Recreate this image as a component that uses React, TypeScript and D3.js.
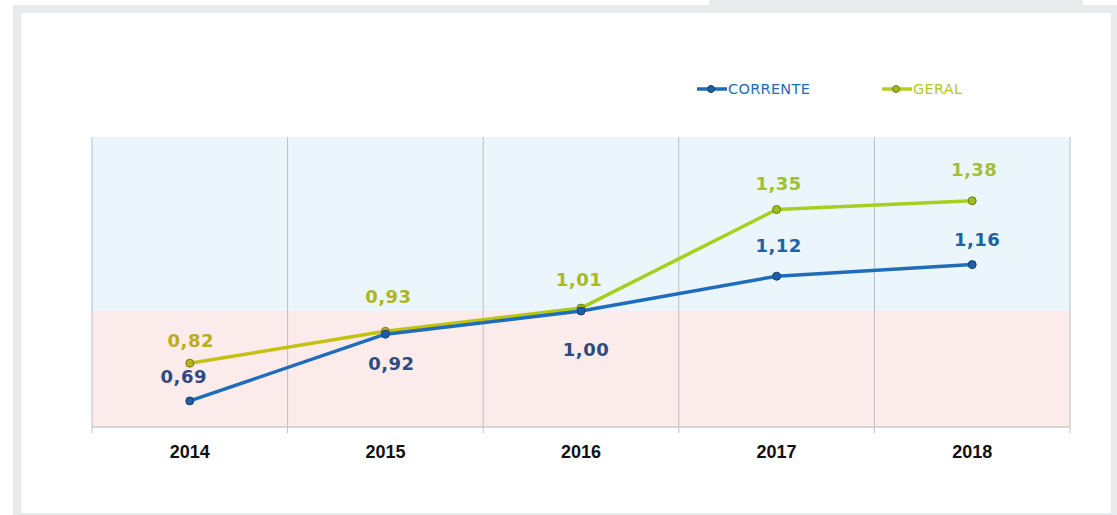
import React from "react";
import * as d3 from "d3";

const years = ["2014", "2015", "2016", "2017", "2018"];
const corrente = [0.69, 0.92, 1.0, 1.12, 1.16];
const geral = [0.82, 0.93, 1.01, 1.35, 1.38];
const seriesNames = ["CORRENTE", "GERAL"];
// label offsets (layout, px from point to text baseline)
const correnteLabelDy = [-18, 36, 45, -24, -19];
const correnteLabelDx = [-6, 6, 5, 2, 5];
const geralLabelDy = [-16, -28, -22, -20, -25];
const geralLabelDx = [1, 3, -2, 2, 2];

const W = 1117;
const H = 515;
const plot = { left: 92, right: 1070, top: 137, bottom: 427 };

const fmt = (v: number) => v.toFixed(2).replace(".", ",");

export default function App() {
  const x = d3
    .scaleBand<string>()
    .domain(years)
    .range([plot.left, plot.right])
    .padding(0);
  const cx = (i: number) => (x(years[i]) as number) + x.bandwidth() / 2;
  const y = d3.scaleLinear().domain([0.6, 1.6]).range([plot.bottom, plot.top]);

  const line = d3
    .line<number>()
    .x((_, i) => cx(i))
    .y((d) => y(d));

  const geralColor = d3
    .scaleLinear<string>()
    .domain([cx(0), cx(2), cx(3), cx(4)])
    .range(["#b9ad1a", "#a7b82a", "#a0c02a", "#a6bd36"]);
  const correnteColor = d3
    .scaleLinear<string>()
    .domain([cx(0), cx(2), cx(3), cx(4)])
    .range(["#2e4a80", "#2a4b7d", "#2062a8", "#22609f"]);

  const gridXs = years.map((yr) => x(yr) as number).concat([plot.right]);

  const labelStyle: React.CSSProperties = {
    fontFamily: "DejaVu Sans, Verdana, sans-serif",
    fontWeight: "bold",
    fontSize: 18,
    letterSpacing: 0.5,
  };

  return (
    <svg
      width={W}
      height={H}
      style={{ position: "absolute", left: 0, top: 0 }}
    >
      <defs>
        <linearGradient
          id="geralGrad"
          gradientUnits="userSpaceOnUse"
          x1={cx(0)}
          x2={cx(4)}
          y1={0}
          y2={0}
        >
          <stop offset="0" stopColor="#c9bf10" />
          <stop offset="0.4" stopColor="#bcc414" />
          <stop offset="0.55" stopColor="#a4cf1c" />
          <stop offset="1" stopColor="#a6d020" />
        </linearGradient>
      </defs>
      {/* frame */}
      <rect x={0} y={0} width={W} height={H} fill="#ffffff" />
      <rect x={709} y={0} width={374} height={6} fill="#e9eaec" />
      <rect x={13} y={5} width={W - 13} height={H - 5} fill="#e9eaec" />
      <rect x={21} y={13} width={1090} height={500} fill="#ffffff" />

      {/* background zones */}
      <rect
        x={plot.left}
        y={plot.top}
        width={plot.right - plot.left}
        height={y(1.0) - plot.top}
        fill="#eaf5fc"
      />
      <rect
        x={plot.left}
        y={y(1.0)}
        width={plot.right - plot.left}
        height={plot.bottom - y(1.0)}
        fill="#fcebeb"
      />

      {/* grid */}
      {gridXs.map((gx, i) => (
        <line
          key={i}
          x1={gx}
          x2={gx}
          y1={plot.top}
          y2={plot.bottom + 6}
          stroke="#b9bfc3"
          strokeWidth={1}
        />
      ))}
      <line
        x1={plot.left}
        x2={plot.right}
        y1={plot.bottom}
        y2={plot.bottom}
        stroke="#c8cacc"
        strokeWidth={1.5}
      />

      {/* x labels */}
      {years.map((yr, i) => (
        <text
          key={yr}
          x={cx(i)}
          y={458}
          textAnchor="middle"
          fontFamily="Liberation Sans, Arial, sans-serif"
          fontWeight="bold"
          fontSize={18}
          fill="#111111"
        >
          {yr}
        </text>
      ))}

      {/* lines */}
      <path
        d={line(geral) || ""}
        fill="none"
        stroke="url(#geralGrad)"
        strokeWidth={3.5}
        strokeLinejoin="round"
      />
      <path
        d={line(corrente) || ""}
        fill="none"
        stroke="#1f6cbb"
        strokeWidth={3.5}
        strokeLinejoin="round"
      />
      {geral.map((v, i) => (
        <circle
          key={"g" + i}
          cx={cx(i)}
          cy={y(v)}
          r={4}
          fill={i < 2 ? "#b8b418" : "#9dbf1c"}
          stroke="#6f7a14"
          strokeWidth={1}
        />
      ))}
      {corrente.map((v, i) => (
        <circle
          key={"c" + i}
          cx={cx(i)}
          cy={y(v)}
          r={4}
          fill="#1d5fa6"
          stroke="#163f72"
          strokeWidth={1}
        />
      ))}

      {/* value labels */}
      {geral.map((v, i) => (
        <text
          key={"gl" + i}
          x={cx(i) + geralLabelDx[i]}
          y={y(v) + geralLabelDy[i]}
          textAnchor="middle"
          fill={geralColor(cx(i))}
          style={labelStyle}
        >
          {fmt(v)}
        </text>
      ))}
      {corrente.map((v, i) => (
        <text
          key={"cl" + i}
          x={cx(i) + correnteLabelDx[i]}
          y={y(v) + correnteLabelDy[i]}
          textAnchor="middle"
          fill={correnteColor(cx(i))}
          style={labelStyle}
        >
          {fmt(v)}
        </text>
      ))}

      {/* legend */}
      {seriesNames.map((name, i) => {
        const lx = i === 0 ? 697 : 882;
        const ly = 89;
        const stroke = i === 0 ? "#1f6cbb" : "#b5cf1a";
        const fill = i === 0 ? "#1d5fa6" : "#a9b818";
        return (
          <g key={name}>
            <line
              x1={lx}
              x2={lx + 30}
              y1={ly}
              y2={ly}
              stroke={stroke}
              strokeWidth={3.5}
            />
            <circle
              cx={lx + 14}
              cy={ly}
              r={3.5}
              fill={fill}
              stroke={i === 0 ? "#163f72" : "#6f7a14"}
              strokeWidth={1}
            />
            <text
              x={lx + 31}
              y={ly + 5}
              fontFamily="DejaVu Sans, Verdana, sans-serif"
              fontSize={14.5}
              letterSpacing={0.3}
              fill={i === 0 ? "#1f6cb8" : "#b4c81c"}
            >
              {name}
            </text>
          </g>
        );
      })}
    </svg>
  );
}
